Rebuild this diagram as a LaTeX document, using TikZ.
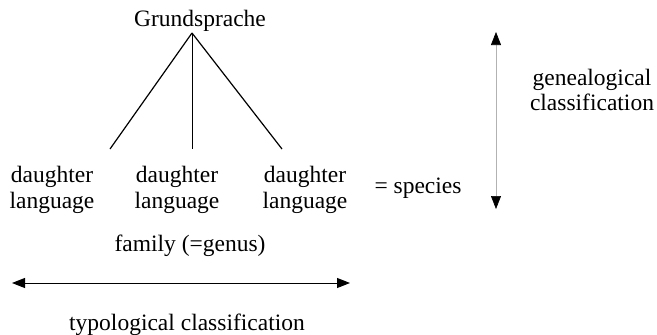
\documentclass[tikz,border=0pt]{standalone}
\usepackage{fontspec}
\setmainfont{Liberation Serif}
\usetikzlibrary{arrows.meta}
\begin{document}
\begin{tikzpicture}[x=1pt,y=-1pt,
  lbl/.style={font=\fontsize{23.5}{26}\selectfont, inner sep=0pt, anchor=base, align=center},
  branch/.style={line width=1.2pt, black},
  twoway/.style={{Triangle[length=13pt,width=10pt,color=black]}-{Triangle[length=13pt,width=10pt,color=black]}}]
\useasboundingbox (0,0) rectangle (657,335);

% root and its branches
\node[lbl] (root) at (200,26) {Grundsprache};
\coordinate (apex) at (192,33);
\coordinate (bl) at (110,149);
\coordinate (bm) at (192,149);
\coordinate (br) at (282,149);
\draw[branch] (apex) -- (bl);
\draw[line width=0.8pt] (apex) -- (bm);
\draw[branch] (apex) -- (br);

% daughter languages
\node[lbl] (d1) at (52,182) {daughter};
\node[lbl] (l1) at (52,208) {language};
\node[lbl] (d2) at (177,182) {daughter};
\node[lbl] (l2) at (177,208) {language};
\node[lbl] (d3) at (305,182) {daughter};
\node[lbl] (l3) at (305,208) {language};
\node[lbl] (sp) at (418,193) {= species};

% genealogical axis
\coordinate (gtop) at (496,32);
\coordinate (gbot) at (496,209);
\draw[twoway, draw=gray!60, line width=0.6pt] (gtop) -- (gbot);
\node[lbl] (gen1) at (592,85) {genealogical};
\node[lbl] (gen2) at (592,110) {classification};

% typological axis
\node[lbl] (fam) at (190,251) {family (=genus)};
\coordinate (tl) at (12,283);
\coordinate (tr) at (350,283);
\draw[twoway, line width=1pt] (tl) -- (tr);
\node[lbl] (typ) at (187,330) {typological classification};
\end{tikzpicture}
\end{document}
